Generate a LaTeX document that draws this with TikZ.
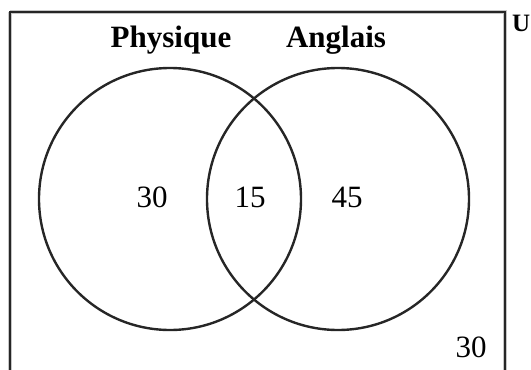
\documentclass[tikz,border=0pt]{standalone}
\usepackage{fontspec}
\setmainfont{Liberation Serif}
\usepackage{xcolor}
\usetikzlibrary{positioning}

\begin{document}
\begin{tikzpicture}[
    x=1pt, y=-1pt,
    set/.style={draw=black!85, line width=2.4pt, circle, minimum size=262pt, inner sep=0pt},
    setlabel/.style={font=\fontsize{31}{31}\selectfont\bfseries, inner sep=0pt, anchor=base},
    count/.style={font=\fontsize{31}{31}\selectfont, inner sep=0pt, anchor=base},
]
% Picture frame
\clip (0,0) rectangle (531,370);

% Universe
\draw[gray!45, line width=4.5pt] (10,12) -- (505,12) -- (505,400);
\draw[gray!45, line width=4.5pt] (10,12) -- (10,400);
\draw[black!85, line width=2.4pt] (10,400) -- (10,12) -- (505,12) -- (505,400);
\node[setlabel, font=\fontsize{25}{25}\selectfont\bfseries, anchor=base west] (univ) at (512,31) {U};

% Sets
\node[set] (phys) at (170,199) {};
\node[set] (angl) at (338,199) {};
\node[setlabel] (physlbl) at (171,47) {Physique};
\node[setlabel] (angllbl) at (336,47) {Anglais};

% Counts
\node[count] (onlyphys) at (152,207) {30};
\node[count] (both) at (250,207) {15};
\node[count] (onlyangl) at (347,207) {45};
\node[count] (neither) at (471,357) {30};
\end{tikzpicture}
\end{document}
